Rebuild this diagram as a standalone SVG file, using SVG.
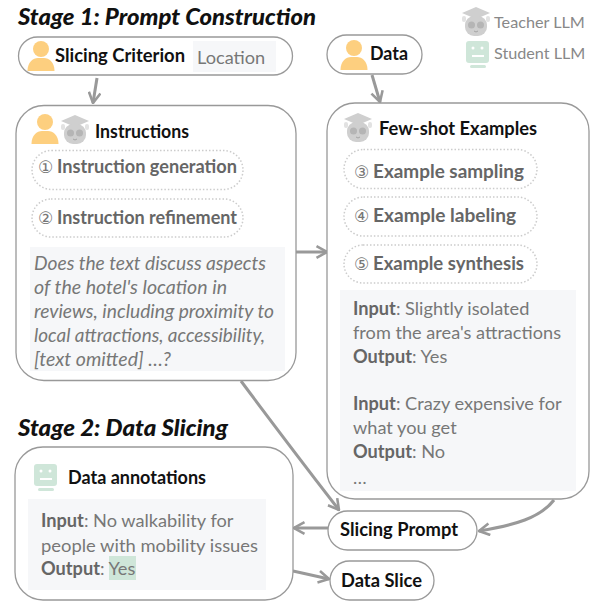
<svg xmlns="http://www.w3.org/2000/svg" width="595" height="602" viewBox="0 0 595 602">
<style>
text{font-family:"Lato","Noto Sans",sans-serif;transform:translateY(1px)}
.title{font-size:23.500px;font-weight:900;font-style:italic;fill:#111;transform:translateY(1.5px)}
.h{font-size:18.200px;font-weight:700;fill:#111}
.step{font-size:18.400px;font-weight:700;fill:#666}
.num{font-size:17px;fill:#777;font-family:"DejaVu Sans",sans-serif}
.body{font-size:18.200px;fill:#777}
.it{font-size:19.100px;font-style:italic}
.b{font-weight:700;fill:#666}
.leg{font-size:16.200px;fill:#888;transform:none}
.box{fill:#fff;stroke:#999;stroke-width:1.3}
.dot{fill:#fff;stroke:#ccc;stroke-width:1.5;stroke-dasharray:1.5 2}
.bg{fill:#f6f7f9}
.con{fill:none;stroke:#999;stroke-width:3}
</style>
<defs>
<marker id="arr" viewBox="0 0 12 12" refX="11" refY="6" markerWidth="14" markerHeight="14" markerUnits="userSpaceOnUse" orient="auto"><path d="M2 1L11 6L2 11" fill="none" stroke="#999" stroke-width="2.2"/></marker>
<g id="user"><circle cx="0" cy="-8" r="8" fill="#fdcf7f"/><path d="M-13.500 14C-13.500 5-8 1-3 1H3C8 1 13.500 5 13.500 14Z" fill="#fdcf7f"/></g>
<g id="teacher"><path d="M-14-9L0-15L14-9L0-3Z" fill="#cfcfcf"/><rect x="-11" y="-6" width="22" height="20" rx="9" fill="#cfcfcf"/><rect x="-14" y="-6" width="4" height="6" rx="2" fill="#e2e2e2"/><rect x="10" y="-6" width="4" height="6" rx="2" fill="#e2e2e2"/><circle cx="-4.500" cy="3" r="3.500" fill="#b5b5b5"/><circle cx="4.500" cy="3" r="3.500" fill="#b5b5b5"/><path d="M-2 9Q0 11 2 9" stroke="#a5a5a5" fill="none"/></g>
<g id="student"><rect x="-12" y="-13" width="23" height="22" rx="3" fill="#cfe6d9"/><circle cx="-5" cy="-6" r="1.500" fill="#fff"/><circle cx="4" cy="-6" r="1.500" fill="#fff"/><rect x="-6" y="1" width="12" height="2" fill="#fff"/><rect x="-8" y="11" width="16" height="3" rx="1.500" fill="#cfe6d9"/></g>
</defs>
<g id="connectors">
<path class="con" d="M97 78L93 103" marker-end="url(#arr)"/>
<path class="con" d="M372 75L380 102" marker-end="url(#arr)"/>
<path class="con" d="M296 252L327 252" marker-end="url(#arr)"/>
<path class="con" d="M241 381Q285 440 339 510" marker-end="url(#arr)"/>
<path class="con" d="M554 500C540 518 515 525 479 531" marker-end="url(#arr)"/>
<path class="con" d="M328 528L294 528" marker-end="url(#arr)"/>
<path class="con" d="M293 571L329 579" marker-end="url(#arr)"/>
</g>
<g id="titles">
<text class="title" x="18" y="23" textLength="298" lengthAdjust="spacingAndGlyphs">Stage 1: Prompt Construction</text>
<text class="title" x="18" y="434" textLength="210" lengthAdjust="spacingAndGlyphs">Stage 2: Data Slicing</text>
</g>
<g id="legend">
<use href="#teacher" x="476" y="22"/><text class="leg" x="494" y="28">Teacher LLM</text>
<use href="#student" x="478" y="54"/><text class="leg" x="494" y="59">Student LLM</text>
</g>
<g id="slicing-criterion">
<rect class="box" x="18.500" y="37" width="274" height="38" rx="19"/>
<use href="#user" x="41" y="57"/>
<text class="h" x="55" y="61" textLength="130" lengthAdjust="spacingAndGlyphs">Slicing Criterion</text>
<rect class="bg" x="193" y="41" width="83" height="31"/>
<text class="body" x="197" y="63">Location</text>
</g>
<g id="data">
<rect class="box" x="327" y="35" width="95" height="39" rx="19.500"/>
<use href="#user" x="354" y="56"/>
<text class="h" x="370" y="59" textLength="38" lengthAdjust="spacingAndGlyphs">Data</text>
</g>
<g id="instructions">
<rect class="box" x="16" y="105.500" width="280" height="275" rx="28"/>
<use href="#user" x="45" y="130"/>
<use href="#teacher" x="75" y="130"/>
<text class="h" x="95" y="137" textLength="94" lengthAdjust="spacingAndGlyphs">Instructions</text>
<rect class="dot" x="32" y="150.500" width="211" height="39" rx="19.500"/>
<text class="num" x="38" y="172">①</text><text class="step" x="57" y="172" textLength="180" lengthAdjust="spacingAndGlyphs">Instruction generation</text>
<rect class="dot" x="32" y="199" width="211" height="38" rx="19"/>
<text class="num" x="38" y="223">②</text><text class="step" x="57" y="223" textLength="180" lengthAdjust="spacingAndGlyphs">Instruction refinement</text>
<rect class="bg" x="30" y="247" width="255" height="124"/>
<g class="body it">
<text x="34" y="269" textLength="232" lengthAdjust="spacingAndGlyphs">Does the text discuss aspects</text>
<text x="34" y="293" textLength="193" lengthAdjust="spacingAndGlyphs">of the hotel's location in</text>
<text x="34" y="317" textLength="240" lengthAdjust="spacingAndGlyphs">reviews, including proximity to</text>
<text x="34" y="341" textLength="231" lengthAdjust="spacingAndGlyphs">local attractions, accessibility,</text>
<text x="34" y="365" textLength="137" lengthAdjust="spacingAndGlyphs">[text omitted] …?</text>
</g>
</g>
<g id="few-shot-examples">
<rect class="box" x="327" y="103" width="262" height="396" rx="28"/>
<use href="#teacher" x="358" y="128"/>
<text class="h" x="379" y="134" textLength="158" lengthAdjust="spacingAndGlyphs">Few-shot Examples</text>
<rect class="dot" x="344" y="149.500" width="193" height="39" rx="19.500"/>
<text class="num" x="354" y="177">③</text><text class="step" x="373" y="177" textLength="151" lengthAdjust="spacingAndGlyphs">Example sampling</text>
<rect class="dot" x="344" y="197" width="193" height="39" rx="19.500"/>
<text class="num" x="354" y="221">④</text><text class="step" x="373" y="221" textLength="143" lengthAdjust="spacingAndGlyphs">Example labeling</text>
<rect class="dot" x="344" y="245" width="193" height="38" rx="19"/>
<text class="num" x="354" y="269">⑤</text><text class="step" x="373" y="269" textLength="151" lengthAdjust="spacingAndGlyphs">Example synthesis</text>
<rect class="bg" x="340" y="290" width="236" height="201"/>
<g class="body">
<text x="353" y="314"><tspan class="b">Input</tspan>: Slightly isolated</text>
<text x="353" y="338" textLength="208" lengthAdjust="spacingAndGlyphs">from the area's attractions</text>
<text x="353" y="362"><tspan class="b">Output</tspan>: Yes</text>
<text x="353" y="409"><tspan class="b">Input</tspan>: Crazy expensive for</text>
<text x="353" y="433">what you get</text>
<text x="353" y="457"><tspan class="b">Output</tspan>: No</text>
<text x="353" y="483">…</text>
</g>
</g>
<g id="data-annotations">
<rect class="box" x="15" y="447" width="278" height="153" rx="28"/>
<use href="#student" x="46" y="477"/>
<text class="h" x="68" y="483" textLength="138" lengthAdjust="spacingAndGlyphs">Data annotations</text>
<rect class="bg" x="28" y="499" width="238" height="91"/>
<rect x="109" y="556" width="27" height="24" fill="#cfe6d9"/>
<g class="body">
<text x="41" y="526"><tspan class="b">Input</tspan>: No walkability for</text>
<text x="41" y="551" textLength="217" lengthAdjust="spacingAndGlyphs">people with mobility issues</text>
<text x="41" y="574"><tspan class="b">Output</tspan>: Yes</text>
</g>
</g>
<g id="slicing-prompt">
<rect class="box" x="328" y="511" width="149" height="39" rx="19.500"/>
<text class="h" x="340" y="535" textLength="118" lengthAdjust="spacingAndGlyphs">Slicing Prompt</text>
</g>
<g id="data-slice">
<rect class="box" x="330" y="561" width="104" height="39" rx="19.500"/>
<text class="h" x="341" y="586" textLength="81" lengthAdjust="spacingAndGlyphs">Data Slice</text>
</g>
</svg>
